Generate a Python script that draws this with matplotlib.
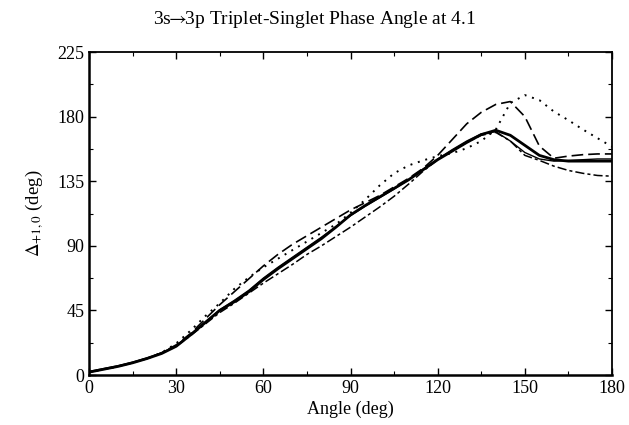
import matplotlib
matplotlib.use("Agg")
import matplotlib.pyplot as plt
from matplotlib.ticker import MultipleLocator

plt.rcParams['font.family'] = ['Liberation Serif', 'DejaVu Serif']
plt.rcParams['mathtext.fontset'] = 'stix'

# angle grid (deg)
angle = [0, 5, 10, 15, 20, 25, 30, 35, 40, 45, 50, 55, 60, 65, 70, 75, 80, 85, 90,
         95, 100, 105, 110, 115, 120, 125, 130, 135, 140, 145, 150, 155, 160, 165,
         170, 175, 180]

# phase angle curves (deg)
solid_thick = [2, 4, 6, 8.5, 11.5, 15, 20, 28, 36.5, 45, 51, 58, 66.5, 74, 81, 88,
               95, 103, 111.5, 118, 124, 130, 136, 143, 150, 156, 162, 167.5, 170.5,
               167, 160, 153, 150, 149, 149, 149, 149]
solid_thin = [2.5, 4.5, 6.5, 9, 12, 15.5, 20.5, 28.5, 37, 45.5, 52, 59, 67.5, 75,
              82, 89, 96, 103.5, 111, 117.5, 123.5, 129.5, 136, 143.5, 150.5, 157,
              163, 168, 169.5, 163, 155, 150.5, 149, 149.5, 150, 150.5, 150.5]
dashed = [2, 4, 6, 8.5, 11.5, 15.5, 21, 29, 39, 49, 58, 67, 76, 84, 91, 97, 103,
          109, 115, 120, 125, 131, 137, 144, 153, 164, 175, 183, 188.5, 190.5, 180,
          159.5, 151, 152.5, 153.5, 154, 154]
dotted = [2, 4, 6, 8.5, 11.5, 15.5, 22, 31, 41, 50, 60, 68, 75, 81, 87, 93, 99,
          105, 113, 122, 132, 140.5, 146, 149.5, 152.5, 154.5, 158, 163, 171, 189.5,
          195, 191.5, 183.5, 177.5, 171, 165, 159]
dashdot = [2, 4, 6, 8.5, 11.5, 15, 20, 27.5, 35.5, 43.5, 50, 57, 64, 70.5, 77, 84,
           90, 96.5, 103, 110, 117, 124.5, 133, 142, 150, 156, 162, 167, 169, 163,
           153, 149.5, 145.5, 142.5, 140.5, 139, 138.5]

fig = plt.figure(figsize=(6.29, 4.25), dpi=100)
ax = fig.add_axes([0.1415, 0.1176, 0.8315, 0.76])

ax.plot(angle, solid_thick, color='black', lw=2.0, ls='-')
ax.plot(angle, solid_thin, color='black', lw=1.0, ls='-')
ax.plot(angle, dashed, color='black', lw=1.2, ls=(0, (7, 3)))
ax.plot(angle, dotted, color='black', lw=1.4, ls=(0, (1, 3)))
ax.plot(angle, dashdot, color='black', lw=1.1, ls=(0, (6, 2, 2, 2)))

ax.set_xlim(0, 180)
ax.set_ylim(0, 225)
ax.xaxis.set_major_locator(MultipleLocator(30))
ax.xaxis.set_minor_locator(MultipleLocator(15))
ax.yaxis.set_major_locator(MultipleLocator(45))
ax.yaxis.set_minor_locator(MultipleLocator(22.5))
ax.tick_params(which='both', direction='in', top=True, right=True, labelsize=13)
ax.tick_params(which='major', length=5, width=1)
ax.tick_params(which='minor', length=3, width=0.8)
for s in ax.spines.values():
    s.set_linewidth(1.3)
ax.spines['left'].set_linewidth(1.8)
ax.spines['bottom'].set_linewidth(1.8)

ax.set_xlabel('Angle (deg)', fontsize=13, labelpad=3)
ax.set_ylabel(r'$\Delta_{+1,0}$ (deg)', fontsize=13.5, labelpad=8)
fig.text(0.5, 0.955, r'3s$\!\!\rightarrow\!\!$3p Triplet-Singlet Phase Angle at 4.1',
         ha='center', va='center', fontsize=14)

fig.savefig('out.png', dpi=100)
